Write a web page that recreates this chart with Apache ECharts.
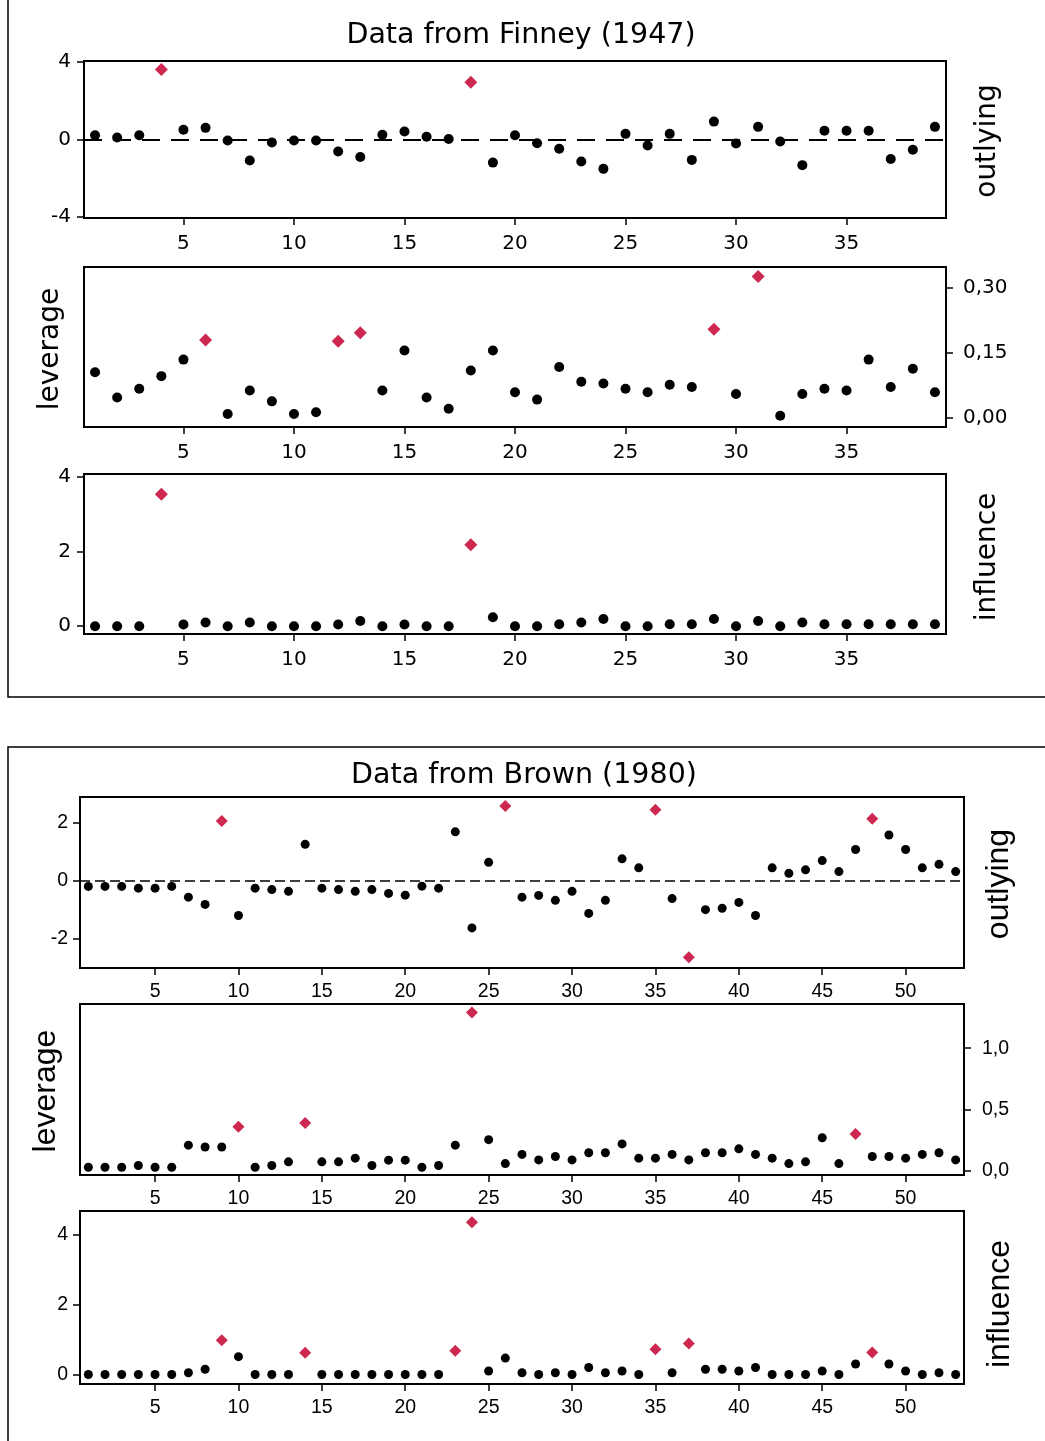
<!DOCTYPE html>
<html><head><meta charset="utf-8">
<script src="https://cdn.jsdelivr.net/npm/echarts@6.0.0/dist/echarts.min.js"></script>
<style>html,body{margin:0;padding:0;background:#fff}#c{width:1045px;height:1441px}</style>
</head><body><div id="c"></div><script>
// ---- Data: Finney (1947), 39 observations ----
const finneyTitle = 'Data from Finney (1947)';
const finneyOutlying = [0.22,0.10,0.22,3.60,0.50,0.60,-0.05,-1.08,-0.15,-0.05,-0.05,-0.62,-0.90,0.24,0.41,0.14,0.03,2.94,-1.19,0.22,-0.19,-0.48,-1.13,-1.51,0.29,-0.31,0.29,-1.05,0.92,-0.21,0.65,-0.10,-1.32,0.45,0.45,0.45,-1.00,-0.53,0.65];
const finneyOutlyingFlag = [4,18];
const finneyLeverage = [0.105,0.047,0.067,0.096,0.134,0.179,0.009,0.063,0.038,0.009,0.013,0.176,0.196,0.063,0.155,0.047,0.021,0.109,0.155,0.059,0.042,0.117,0.083,0.079,0.067,0.059,0.076,0.071,0.204,0.055,0.325,0.005,0.055,0.067,0.063,0.134,0.071,0.113,0.059];
const finneyLeverageFlag = [6,12,13,29,31];
const finneyInfluence = [0,0,0,3.54,0.045,0.10,0,0.10,0,0,0,0.045,0.14,0,0.045,0,0,2.18,0.24,0,0,0.05,0.10,0.19,0,0,0.05,0.05,0.19,0,0.14,0,0.10,0.05,0.05,0.05,0.05,0.05,0.05];
const finneyInfluenceFlag = [4,18];
const finneyXTicks = [5,10,15,20,25,30,35];
const finneyOutlyingTicks = [-4,0,4];
const finneyLeverageTicks = [0,0.15,0.30];
const finneyInfluenceTicks = [0,2,4];

// ---- Data: Brown (1980), 53 observations ----
const brownTitle = 'Data from Brown (1980)';
const brownOutlying = [-0.21,-0.21,-0.21,-0.27,-0.27,-0.21,-0.58,-0.83,2.04,-1.21,-0.27,-0.32,-0.38,1.24,-0.27,-0.32,-0.38,-0.32,-0.45,-0.51,-0.20,-0.27,1.67,-1.64,0.62,2.56,-0.58,-0.52,-0.69,-0.38,-1.14,-0.69,0.74,0.43,2.43,-0.63,-2.65,-1.01,-0.96,-0.76,-1.21,0.43,0.24,0.36,0.68,0.30,1.06,2.12,1.56,1.06,0.43,0.55,0.30];
const brownOutlyingFlag = [9,26,35,37,48];
const brownLeverage = [0.03,0.03,0.03,0.044,0.03,0.03,0.21,0.195,0.195,0.36,0.03,0.044,0.074,0.39,0.074,0.074,0.104,0.044,0.088,0.088,0.03,0.044,0.21,1.29,0.255,0.06,0.135,0.09,0.118,0.09,0.148,0.148,0.22,0.104,0.104,0.135,0.09,0.148,0.148,0.18,0.135,0.104,0.06,0.074,0.27,0.06,0.30,0.118,0.118,0.104,0.135,0.148,0.09];
const brownLeverageFlag = [10,14,24,47];
const brownInfluence = [0,0,0,0,0,0,0.05,0.15,0.98,0.51,0,0,0,0.62,0,0,0,0,0,0,0,0,0.68,4.35,0.10,0.47,0.05,0,0.05,0,0.20,0.05,0.10,0,0.72,0.05,0.89,0.15,0.15,0.10,0.20,0,0,0,0.10,0,0.30,0.63,0.30,0.10,0,0.05,0];
const brownInfluenceFlag = [9,14,23,24,35,37,48];
const brownXTicks = [5,10,15,20,25,30,35,40,45,50];
const brownOutlyingTicks = [-2,0,2];
const brownLeverageTicks = [0,0.5,1.0];
const brownInfluenceTicks = [0,2,4];

const RED = '#cc2850';
const FONT_TOP = 'DejaVu Sans';
const FONT_BOT = 'Liberation Sans';

const panels = [
  {vals: finneyOutlying, flag: finneyOutlyingFlag, xt: finneyXTicks, yt: finneyOutlyingTicks, ymin:-4.04, ymax:4.04, xmax:39.5, grid:{left:84,top:61,width:862,height:157}, side:'left', dec:0, font:FONT_TOP, fs:20, dot:10, dia:13, dash:[18,11], dashW:2, xMargin:16, yMargin:13},
  {vals: finneyLeverage, flag: finneyLeverageFlag, xt: finneyXTicks, yt: finneyLeverageTicks, ymin:-0.021, ymax:0.347, xmax:39.5, grid:{left:84,top:267,width:862,height:160}, side:'right', dec:2, font:FONT_TOP, fs:20, dot:10, dia:13, xMargin:16, yMargin:17},
  {vals: finneyInfluence, flag: finneyInfluenceFlag, xt: finneyXTicks, yt: finneyInfluenceTicks, ymin:-0.21, ymax:4.08, xmax:39.5, grid:{left:84,top:474,width:862,height:160}, side:'left', dec:0, font:FONT_TOP, fs:20, dot:10, dia:13, xMargin:16, yMargin:13},
  {vals: brownOutlying, flag: brownOutlyingFlag, xt: brownXTicks, yt: brownOutlyingTicks, ymin:-3.02, ymax:2.87, xmax:53.5, grid:{left:80,top:797,width:884,height:171}, side:'left', dec:0, font:FONT_BOT, fs:19.5, dot:9, dia:12, dash:[10,5], dashW:1.6, xMargin:14, yMargin:12},
  {vals: brownLeverage, flag: brownLeverageFlag, xt: brownXTicks, yt: brownLeverageTicks, ymin:-0.033, ymax:1.36, xmax:53.5, grid:{left:80,top:1004,width:884,height:171}, side:'right', dec:1, font:FONT_BOT, fs:19.5, dot:9, dia:12, xMargin:14, yMargin:18},
  {vals: brownInfluence, flag: brownInfluenceFlag, xt: brownXTicks, yt: brownInfluenceTicks, ymin:-0.27, ymax:4.67, xmax:53.5, grid:{left:80,top:1211,width:884,height:173}, side:'left', dec:0, font:FONT_BOT, fs:19.5, dot:9, dia:12, xMargin:14, yMargin:12}
];

const grid = [], xAxis = [], yAxis = [], series = [];
panels.forEach((p, k) => {
  grid.push(Object.assign({show:true, borderColor:'#000', borderWidth:2, backgroundColor:'transparent'}, p.grid));
  const tickStyle = {color:'#000', width:1.5};
  xAxis.push({type:'value', gridIndex:k, min:0.5, max:p.xmax, position:'bottom',
    axisLine:{show:false, onZero:false}, splitLine:{show:false},
    axisTick:{show:true, inside:false, length:7, customValues:p.xt, lineStyle:tickStyle},
    axisLabel:{show:true, customValues:p.xt, margin:p.xMargin, fontFamily:p.font, fontSize:p.fs, color:'#000'}});
  yAxis.push({type:'value', gridIndex:k, position:p.side, min:p.ymin, max:p.ymax,
    axisLine:{show:false, onZero:false}, splitLine:{show:false},
    axisTick:{show:true, inside:false, length:7, customValues:p.yt, lineStyle:tickStyle},
    axisLabel:{show:true, customValues:p.yt, margin:p.yMargin, fontFamily:p.font, fontSize:p.fs, color:'#000',
      formatter: v => p.dec ? v.toFixed(p.dec).replace('.', ',') : String(Math.round(v))}});
  const black = [], red = [];
  p.vals.forEach((v, i) => {
    const n = i + 1;
    if (p.flag.indexOf(n) >= 0) red.push([n, v]); else black.push([n, v]);
  });
  const s1 = {type:'scatter', xAxisIndex:k, yAxisIndex:k, data:black, symbol:'circle', symbolSize:p.dot,
    itemStyle:{color:'#000', opacity:1}, silent:true, z:3};
  if (p.dash) {
    s1.markLine = {silent:true, symbol:'none', label:{show:false}, animation:false,
      lineStyle:{color:'#000', type:p.dash, width:p.dashW, opacity:1}, data:[{yAxis:0}]};
  }
  series.push(s1);
  series.push({type:'scatter', xAxisIndex:k, yAxisIndex:k, data:red, symbol:'diamond', symbolSize:p.dia,
    itemStyle:{color:RED, opacity:1}, silent:true, z:4});
});

function vText(txt, x, y, font, size) {
  return {type:'text', x:x, y:y, rotation:Math.PI/2, silent:true,
    style:{text:txt, fill:'#000', font: size + 'px "' + font + '"', textAlign:'center', textVerticalAlign:'middle'}};
}
const graphic = [
  {type:'rect', silent:true, shape:{x:8, y:-2, width:1100, height:699}, style:{fill:'none', stroke:'#000', lineWidth:1.5}},
  {type:'rect', silent:true, shape:{x:8, y:747, width:1100, height:800}, style:{fill:'none', stroke:'#000', lineWidth:1.5}},
  {type:'text', x:521, y:36, silent:true, style:{text:finneyTitle, fill:'#000', font:'28.5px "DejaVu Sans"', textAlign:'center', textVerticalAlign:'middle'}},
  {type:'text', x:524, y:776, silent:true, style:{text:brownTitle, fill:'#000', font:'28.5px "DejaVu Sans"', textAlign:'center', textVerticalAlign:'middle'}},
  vText('outlying', 988, 141, FONT_TOP, 28),
  vText('leverage', 51, 349, FONT_TOP, 28),
  vText('influence', 988, 557, FONT_TOP, 28),
  vText('outlying', 999, 884, FONT_BOT, 32),
  vText('leverage', 46, 1091, FONT_BOT, 32),
  vText('influence', 1000, 1304, FONT_BOT, 32)
];

const chart = echarts.init(document.getElementById('c'), null, {renderer:'canvas'});
chart.setOption({animation:false, backgroundColor:'#fff', grid, xAxis, yAxis, series, graphic});
</script></body></html>
